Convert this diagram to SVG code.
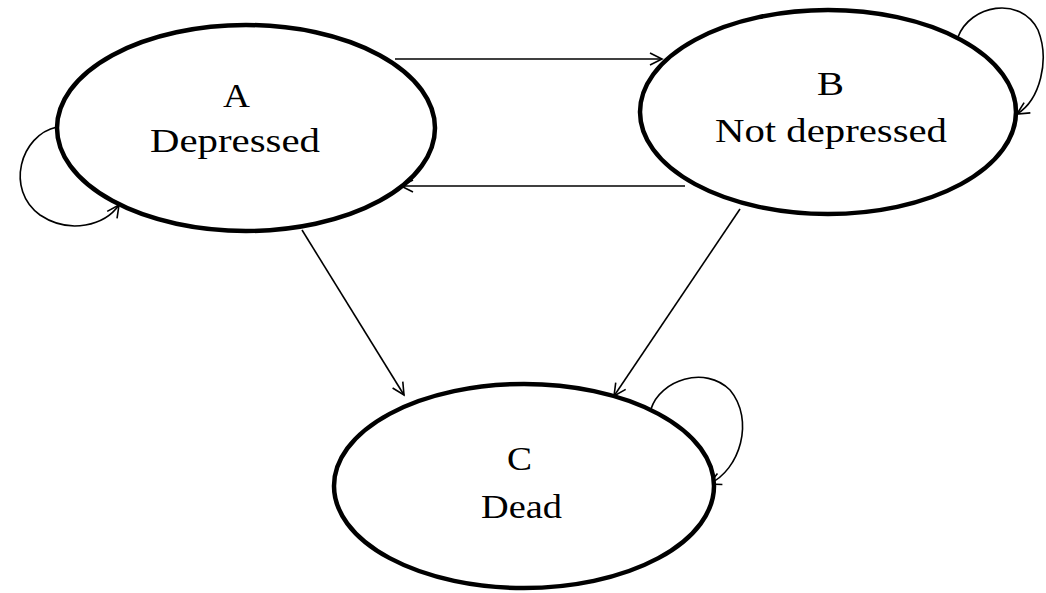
<svg xmlns="http://www.w3.org/2000/svg" width="1046" height="593" viewBox="0 0 1046 593">
<defs>
<style>
.node{fill:#fff;stroke:#000;stroke-width:4.5}
.lbl{font-family:"Liberation Serif",serif;font-size:34px;fill:#000;text-anchor:middle}
.edge{fill:none;stroke:#000;stroke-width:1.6}
</style>
<marker id="arr" markerWidth="16" markerHeight="16" refX="14" refY="8" orient="auto" markerUnits="userSpaceOnUse">
<path d="M2,2 L14,8 L2,14" fill="none" stroke="#000" stroke-width="1.6"/>
</marker>
</defs>
<rect width="1046" height="593" fill="#fff"/>
<g id="connectors">
<path class="edge" d="M395,59 L662,59" marker-end="url(#arr)"/>
<path class="edge" d="M685,186 L401,186" marker-end="url(#arr)"/>
<path class="edge" d="M302,230 L404,395" marker-end="url(#arr)"/>
<path class="edge" d="M740,209 L614,396" marker-end="url(#arr)"/>
<path class="edge" d="M57,127 C20,135 5,190 40,215 C70,235 105,225 119,205" marker-end="url(#arr)"/>
<path class="edge" d="M958,37 C970,5 1020,-5 1038,30 C1050,60 1040,100 1017,114" marker-end="url(#arr)"/>
<path class="edge" d="M651,409 C660,380 705,365 730,390 C755,420 740,470 709,484" marker-end="url(#arr)"/>
</g>
<g id="node-A">
<ellipse class="node" cx="246" cy="128" rx="189" ry="103"/>
<text class="lbl" x="236.5" y="107" textLength="27" lengthAdjust="spacingAndGlyphs">A</text>
<text class="lbl" x="235" y="152" textLength="170" lengthAdjust="spacingAndGlyphs">Depressed</text>
</g>
<g id="node-B">
<ellipse class="node" cx="828" cy="112" rx="188" ry="102"/>
<text class="lbl" x="830.5" y="95" textLength="27" lengthAdjust="spacingAndGlyphs">B</text>
<text class="lbl" x="831" y="142" textLength="232" lengthAdjust="spacingAndGlyphs">Not depressed</text>
</g>
<g id="node-C">
<ellipse class="node" cx="524" cy="486" rx="190" ry="102"/>
<text class="lbl" x="519.5" y="470" textLength="25" lengthAdjust="spacingAndGlyphs">C</text>
<text class="lbl" x="521.5" y="518" textLength="81" lengthAdjust="spacingAndGlyphs">Dead</text>
</g>
</svg>
